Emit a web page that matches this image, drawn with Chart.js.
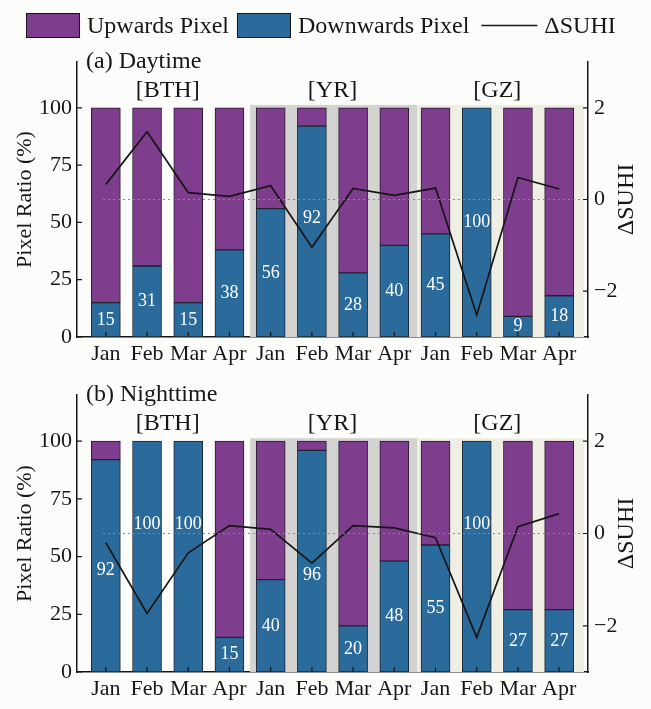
<!DOCTYPE html>
<html>
<head>
<meta charset="utf-8">
<title>Pixel Ratio and ΔSUHI</title>
<script src="https://cdn.jsdelivr.net/npm/chart.js@4.4.1/dist/chart.umd.min.js"></script>
<style>
  body { margin: 0; background: #fcfcfa; }
  .panel { position: absolute; left: 0; width: 651px; }
  #dayBox { top: 0; height: 372px; }
  #nightBox { top: 372px; height: 337px; }
</style>
</head>
<body>
<div class="panel" id="dayBox"><canvas id="dayChart"></canvas></div>
<div class="panel" id="nightBox"><canvas id="nightChart"></canvas></div>
<script>
// categories
const months = ['Jan', 'Feb', 'Mar', 'Apr', 'Jan', 'Feb', 'Mar', 'Apr', 'Jan', 'Feb', 'Mar', 'Apr']
const regionNames = ['[BTH]', '[YR]', '[GZ]']
const pixelTicks = [0, 25, 50, 75, 100]
const suhiTicks = [-2, 0, 2]

// (a) daytime
const dayDown = [15, 31, 15, 38, 56, 92, 28, 40, 45, 100, 9, 18]
const dayUp = [85, 69, 85, 62, 44, 8, 72, 60, 55, 0, 91, 82]
const daySuhi = [0.33, 1.48, 0.15, 0.07, 0.30, -1.04, 0.24, 0.09, 0.25, -2.52, 0.48, 0.23]

// (b) nighttime
const nightDown = [92, 100, 100, 15, 40, 96, 20, 48, 55, 100, 27, 27]
const nightUp = [8, 0, 0, 85, 60, 4, 80, 52, 45, 0, 73, 73]
const nightSuhi = [-0.20, -1.73, -0.42, 0.17, 0.09, -0.64, 0.17, 0.12, -0.09, -2.25, 0.15, 0.43]

// labels that sit off the middle of their bar (value on the pixel axis)
const dayLabelAt = { 5: 52 }
const nightLabelAt = { 0: 44, 1: 64, 2: 64, 5: 42, 9: 64 }

const serif = "'Liberation Serif', 'Times New Roman', serif"
const purple = '#7e3d8d'
const blue = '#2b6b9b'
const ink = '#161616'
const shades = [
  { from: 3.5, to: 7.55, color: '#d3d3d2' },
  { from: 7.55, to: 11.6, color: '#efeee5' }
]

function minusSign(v) {
  return v < 0 ? '\u2212' + Math.abs(v) : String(v)
}

function makeDecor(title, labelAt, withLegend) {
  return {
    id: 'decor',
    beforeDatasetsDraw(chart) {
      const { ctx, scales: { x, y } } = chart
      const top = y.getPixelForValue(101.3)
      const bottom = y.getPixelForValue(0)
      ctx.save()
      shades.forEach(s => {
        const l = x.getPixelForValue(s.from)
        const r = x.getPixelForValue(s.to)
        ctx.fillStyle = s.color
        ctx.fillRect(l, top, r - l, bottom - top)
      })
      ctx.restore()
    },
    afterDatasetsDraw(chart) {
      const { ctx, chartArea, scales: { x, y, y2 } } = chart
      ctx.save()
      // dotted zero line of the SUHI axis, over the bars
      const zy = y2.getPixelForValue(0)
      ctx.strokeStyle = '#8a8a8a'
      ctx.lineWidth = 1
      ctx.setLineDash([2, 3])
      ctx.beginPath()
      ctx.moveTo(x.getPixelForValue(-0.07), zy)
      ctx.lineTo(chartArea.right, zy)
      ctx.stroke()
      ctx.setLineDash([])

      // white numbers in the blue bars
      const meta = chart.getDatasetMeta(1)
      const values = chart.data.datasets[1].data
      ctx.fillStyle = '#ffffff'
      ctx.font = '18px ' + serif
      ctx.textAlign = 'center'
      ctx.textBaseline = 'middle'
      meta.data.forEach((bar, i) => {
        const ty = labelAt[i] !== undefined ? y.getPixelForValue(labelAt[i]) : (bar.y + bar.base) / 2
        ctx.fillText(String(values[i].y), bar.x, ty)
      })
      // region names
      ctx.fillStyle = ink
      ctx.font = '24px ' + serif
      regionNames.forEach((name, g) => {
        ctx.fillText(name, x.getPixelForValue(g * 4 + 1.5), y.getPixelForValue(107.4))
      })
      // inward tick marks
      ctx.strokeStyle = ink
      ctx.lineWidth = 1.2
      ctx.beginPath()
      months.forEach((m, i) => {
        const px = x.getPixelForValue(i)
        ctx.moveTo(px, chartArea.bottom)
        ctx.lineTo(px, chartArea.bottom - 5)
      })
      pixelTicks.forEach(v => {
        const py = y.getPixelForValue(v)
        ctx.moveTo(chartArea.left, py)
        ctx.lineTo(chartArea.left + 5, py)
      })
      suhiTicks.forEach(v => {
        const py = y2.getPixelForValue(v)
        ctx.moveTo(chartArea.right, py)
        ctx.lineTo(chartArea.right - 5, py)
      })
      ctx.stroke()
      ctx.restore()
    },
    afterDraw(chart) {
      const { ctx, chartArea, scales: { y2 } } = chart
      ctx.save()
      ctx.fillStyle = ink
      ctx.font = '24px ' + serif
      ctx.textBaseline = 'middle'
      ctx.textAlign = 'left'
      ctx.fillText(title, chartArea.left + 9, chartArea.top)

      // right axis title, reading upwards
      ctx.save()
      ctx.translate(627, y2.getPixelForValue(0))
      ctx.rotate(-Math.PI / 2)
      ctx.textAlign = 'center'
      ctx.fillText('\u0394SUHI', 0, 0)
      ctx.restore()

      if (withLegend) {
        const order = [2, 1, 0]
        let cx = 26
        const cy = 25.5
        order.forEach((di, k) => {
          const ds = chart.data.datasets[di]
          if (ds.type === 'line') {
            ctx.strokeStyle = ds.borderColor
            ctx.lineWidth = 1.5
            ctx.beginPath()
            ctx.moveTo(cx, cy)
            ctx.lineTo(cx + 56, cy)
            ctx.stroke()
            cx += 63
          } else {
            ctx.fillStyle = ds.backgroundColor
            ctx.fillRect(cx, cy - 12.5, 54, 25)
            ctx.strokeStyle = ink
            ctx.lineWidth = 1
            ctx.strokeRect(cx + 0.5, cy - 12, 53, 24)
            cx += 61
          }
          ctx.fillStyle = ink
          ctx.fillText(ds.label, cx, cy + 1)
          cx += ctx.measureText(ds.label).width + (k === 0 ? 8 : 12)
        })
      }
      ctx.restore()
    }
  }
}

function buildChart(canvasId, down, up, suhi, labelAt, title, withLegend, topPad, axisHeight) {
  const fontTicks = { family: serif, size: 22 }
  return new Chart(document.getElementById(canvasId), {
    type: 'bar',
    data: {
      datasets: [
        {
          type: 'line',
          label: '\u0394SUHI',
          data: suhi.map((v, i) => ({ x: i, y: v })),
          yAxisID: 'y2',
          borderColor: ink,
          borderWidth: 1.7,
          pointRadius: 0,
          tension: 0,
          order: 0
        },
        {
          label: 'Downwards Pixel',
          data: down.map((v, i) => ({ x: i, y: v })),
          yAxisID: 'y',
          backgroundColor: blue,
          borderColor: '#1c2630',
          borderWidth: 1,
          borderSkipped: false,
          barThickness: 29,
          order: 1
        },
        {
          label: 'Upwards Pixel',
          data: up.map((v, i) => ({ x: i, y: v })),
          yAxisID: 'y',
          backgroundColor: purple,
          borderColor: '#2a1c2e',
          borderWidth: 1,
          borderSkipped: false,
          barThickness: 29,
          order: 1
        }
      ]
    },
    options: {
      responsive: true,
      maintainAspectRatio: false,
      animation: false,
      layout: { padding: { top: topPad, left: 0, right: 0, bottom: 0 } },
      plugins: { legend: { display: false }, tooltip: { enabled: false } },
      scales: {
        x: {
          type: 'linear',
          min: -0.7,
          max: 11.7,
          offset: false,
          stacked: true,
          grid: { display: false, drawTicks: false, offset: false },
          border: { display: true, color: ink, width: 1.5 },
          afterBuildTicks: s => { s.ticks = months.map((m, i) => ({ value: i })) },
          afterFit: s => { s.height = axisHeight },
          ticks: {
            autoSkip: false,
            maxRotation: 0,
            padding: 4,
            color: ink,
            font: fontTicks,
            callback: v => months[v]
          }
        },
        y: {
          position: 'left',
          min: 0,
          max: 120,
          stacked: true,
          grid: { display: false, drawTicks: false },
          border: { display: true, color: ink, width: 1.5 },
          afterBuildTicks: s => { s.ticks = pixelTicks.map(v => ({ value: v })) },
          afterFit: s => { s.width = 77 },
          ticks: { padding: 5, color: ink, font: fontTicks },
          title: {
            display: true,
            text: 'Pixel Ratio (%)',
            color: ink,
            font: { family: serif, size: 22 },
            padding: { top: 12, bottom: 0 }
          }
        },
        y2: {
          position: 'right',
          min: -3,
          max: 3,
          grid: { display: false, drawTicks: false },
          border: { display: true, color: ink, width: 1.5 },
          afterBuildTicks: s => { s.ticks = suhiTicks.map(v => ({ value: v })) },
          afterFit: s => { s.width = 63 },
          ticks: { padding: 6, color: ink, font: fontTicks, callback: v => minusSign(v) }
        }
      }
    },
    plugins: [makeDecor(title, labelAt, withLegend)]
  })
}

buildChart('dayChart', dayDown, dayUp, daySuhi, dayLabelAt, '(a) Daytime', true, 62, 35)
buildChart('nightChart', nightDown, nightUp, nightSuhi, nightLabelAt, '(b) Nighttime', false, 23, 37)
</script>
</body>
</html>
